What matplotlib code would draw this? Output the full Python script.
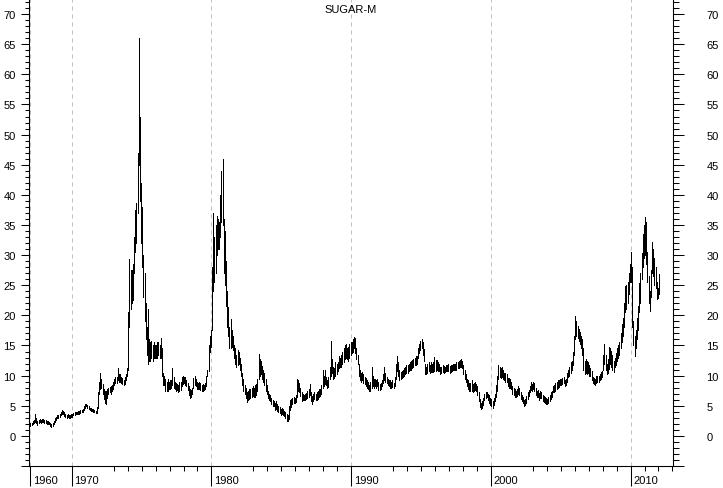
import numpy as np
import matplotlib
matplotlib.use("Agg")
import matplotlib.pyplot as plt

plt.rcParams['font.family'] = ['Liberation Sans', 'DejaVu Sans']

# precio mensual del azucar (rango bajo / alto), desde enero de 1967
start_year = 1967
lows = [
    1.7, 1.8, 1.9, 2.1, 2.3, 2.2, 1.8, 2.1, 2.3, 2.2, 2.3, 2.3,            # 1967
    2.2, 2.1, 2.0, 2.0, 1.9, 1.7, 1.5, 1.6, 1.9, 2.3, 2.6, 2.9,            # 1968
    3.0, 3.2, 3.5, 3.7, 3.6, 3.3, 3.2, 3.0, 3.1, 3.0, 2.9, 3.1,            # 1969
    3.2, 3.4, 3.5, 3.6, 3.6, 3.7, 3.7, 3.8, 3.9, 4.0, 4.3, 4.6,            # 1970
    4.9, 4.6, 4.4, 4.3, 4.2, 4.1, 4.0, 3.9, 3.8, 3.8, 4.6, 7.0,            # 1971
    7.8, 8.0, 7.0, 6.2, 5.5, 5.3, 6.3, 7.0, 7.3, 7.0, 7.4, 7.8,            # 1972
    8.5, 8.8, 8.7, 9.2, 9.0, 9.0, 8.8, 8.6, 8.4, 8.6, 9.2, 10.0,           # 1973
    11.0, 18.0, 21.0, 22.0, 22.5, 27.0, 30.5, 32.0, 37.0, 45.0, 39.0, 32.0,  # 1974
    28.0, 23.0, 19.0, 16.0, 13.5, 12.0, 12.5, 12.5, 13.0, 12.5, 13.0, 13.0,  # 1975
    13.0, 13.0, 13.5, 13.0, 13.0, 10.0, 8.5, 8.5, 7.5, 7.5, 7.5, 7.8,      # 1976
    7.8, 8.0, 8.5, 8.0, 7.8, 7.5, 7.6, 7.3, 7.5, 7.6, 8.2, 8.6,            # 1977
    8.8, 8.5, 8.2, 7.6, 6.8, 6.3, 6.5, 7.0, 8.0, 8.5, 8.3, 7.8,            # 1978
    7.8, 7.8, 7.6, 7.5, 7.4, 7.6, 7.8, 8.3, 10.0, 10.8, 14.0, 14.8,        # 1979
    17.5, 24.0, 25.5, 27.0, 30.0, 31.0, 31.0, 33.0, 35.5, 35.0, 27.0, 25.0,  # 1980
    21.5, 18.0, 16.5, 14.5, 14.5, 14.8, 14.2, 13.0, 12.0, 11.5, 11.8, 12.0,  # 1981
    11.0, 10.0, 8.5, 7.5, 7.0, 6.3, 5.6, 6.0, 6.2, 6.3, 6.5, 6.6,          # 1982
    6.5, 6.5, 6.7, 7.5, 9.5, 10.0, 10.2, 9.5, 9.0, 8.5, 7.5, 7.0,          # 1983
    6.3, 6.0, 5.8, 5.3, 5.0, 5.0, 4.3, 4.5, 4.2, 4.0, 3.8, 3.5,            # 1984
    3.6, 3.5, 3.3, 2.9, 2.5, 2.4, 2.8, 4.3, 4.8, 5.3, 5.5, 5.4,            # 1985
    5.6, 6.5, 7.5, 7.3, 6.6, 5.8, 5.9, 6.0, 6.0, 6.1, 6.3, 6.5,            # 1986
    6.7, 5.8, 5.3, 5.8, 6.2, 6.0, 6.0, 6.2, 6.5, 6.6, 7.0, 8.0,            # 1987
    8.3, 8.6, 8.5, 8.0, 8.1, 9.5, 10.0, 10.5, 9.5, 9.6, 10.0, 10.2,        # 1988
    10.8, 11.2, 11.5, 11.5, 12.0, 12.2, 12.8, 13.0, 12.8, 12.5, 13.0, 13.5,  # 1989
    13.8, 14.0, 14.5, 13.8, 12.8, 12.0, 10.0, 9.2, 9.0, 9.2, 8.7, 8.6,     # 1990
    8.2, 8.0, 7.8, 7.4, 7.5, 8.0, 8.3, 8.0, 8.2, 8.0, 8.3, 7.6,            # 1991
    7.6, 7.8, 8.2, 8.8, 9.3, 9.0, 8.8, 8.5, 8.3, 8.0, 8.0, 8.1,            # 1992
    7.9, 8.3, 9.5, 10.8, 10.0, 9.2, 9.4, 9.6, 9.8, 10.0, 10.2, 10.5,       # 1993
    10.5, 10.8, 11.0, 11.0, 11.3, 11.5, 11.8, 11.8, 12.0, 13.0, 13.8, 14.2,  # 1994
    14.5, 13.5, 12.5, 10.3, 10.2, 10.5, 10.8, 10.5, 10.6, 10.6, 10.6, 10.8,  # 1995
    10.8, 11.0, 10.8, 10.7, 10.3, 10.4, 10.6, 10.5, 10.6, 10.7, 10.8, 10.8,  # 1996
    10.5, 10.6, 10.8, 10.9, 11.0, 10.9, 11.0, 11.2, 11.3, 11.4, 11.5, 11.2,  # 1997
    10.3, 9.5, 9.0, 8.3, 7.8, 7.5, 7.5, 7.4, 7.3, 7.4, 7.6, 7.5,           # 1998
    6.8, 5.8, 4.8, 4.5, 4.7, 5.1, 6.0, 6.3, 6.4, 6.0, 5.5, 5.2,            # 1999
    5.0, 4.7, 5.2, 5.8, 6.5, 7.5, 9.5, 9.8, 9.6, 9.7, 9.5, 9.2,            # 2000
    9.0, 9.0, 8.3, 8.0, 8.0, 7.7, 7.0, 6.7, 6.5, 6.4, 6.6, 7.0,            # 2001
    6.8, 6.2, 5.8, 5.5, 5.0, 5.1, 5.5, 6.2, 6.6, 7.2, 7.6, 7.4,            # 2002
    7.8, 7.5, 6.8, 6.5, 6.5, 6.0, 6.3, 6.3, 5.8, 5.6, 5.5, 5.3,            # 2003
    5.3, 5.4, 5.8, 6.2, 6.5, 7.2, 7.3, 7.5, 7.8, 8.0, 8.1, 8.4,            # 2004
    8.5, 8.6, 8.7, 8.3, 8.4, 9.0, 9.8, 10.0, 10.5, 11.0, 11.7, 13.5,       # 2005
    16.0, 16.5, 16.3, 15.8, 15.2, 14.5, 13.5, 11.0, 10.2, 10.5, 10.3, 10.5,  # 2006
    10.0, 10.0, 9.3, 8.7, 8.6, 8.5, 8.8, 8.9, 9.0, 9.2, 9.5, 9.7,          # 2007
    11.0, 12.0, 11.0, 10.2, 10.5, 11.1, 12.0, 11.5, 11.0, 10.6, 11.5, 11.8,  # 2008
    12.5, 13.0, 13.5, 14.5, 15.5, 16.5, 18.0, 20.5, 21.0, 22.0, 23.5, 25.5,  # 2009
    25.5, 18.0, 15.0, 13.3, 14.5, 16.0, 17.5, 20.5, 22.0, 26.0, 28.0, 29.5,  # 2010
    30.0, 28.5, 25.5, 22.0, 20.8, 23.0, 27.0, 26.5, 25.0, 24.5, 22.7, 22.8,  # 2011
    23.5,                                                                  # 2012
]
highs = [
    2.1, 2.2, 2.5, 2.6, 3.6, 2.9, 2.4, 2.6, 2.8, 2.7, 2.8, 2.8,            # 1967
    2.7, 2.6, 2.5, 2.4, 2.3, 2.2, 2.0, 2.1, 2.5, 2.9, 3.2, 3.4,            # 1968
    3.5, 3.7, 4.0, 4.3, 4.2, 3.9, 3.6, 3.5, 3.6, 3.4, 3.4, 3.6,            # 1969
    3.6, 3.8, 3.9, 4.0, 4.0, 4.1, 4.2, 4.3, 4.3, 4.5, 4.9, 5.3,            # 1970
    5.3, 5.1, 4.9, 4.7, 4.6, 4.5, 4.4, 4.3, 4.2, 4.8, 7.2, 9.0,            # 1971
    10.4, 9.5, 8.6, 7.8, 7.5, 7.4, 7.8, 8.0, 8.1, 8.2, 8.4, 9.0,           # 1972
    9.5, 9.8, 9.7, 11.3, 10.3, 10.3, 9.7, 9.6, 9.3, 9.8, 10.2, 11.2,       # 1973
    20.5, 29.4, 27.5, 27.5, 28.5, 33.0, 37.5, 38.6, 47.0, 66.0, 53.0, 42.0,  # 1974
    38.0, 30.0, 27.0, 22.0, 18.0, 21.0, 16.0, 15.5, 15.8, 15.0, 15.5, 15.0,  # 1975
    15.0, 15.5, 15.5, 15.0, 16.3, 14.5, 10.5, 10.0, 9.5, 9.0, 9.5, 9.0,    # 1976
    9.2, 9.3, 11.3, 9.8, 9.0, 8.8, 8.6, 8.5, 9.0, 9.0, 9.8, 10.0,          # 1977
    9.8, 9.7, 9.3, 8.8, 8.2, 7.8, 7.6, 8.0, 9.6, 10.0, 9.5, 9.0,           # 1978
    8.8, 9.0, 8.8, 8.5, 8.6, 8.5, 8.8, 10.0, 10.9, 15.0, 16.5, 17.5,       # 1979
    28.0, 37.0, 33.0, 35.0, 36.5, 36.0, 35.5, 40.0, 44.0, 46.0, 36.0, 34.0,  # 1980
    29.0, 24.0, 21.4, 18.0, 19.4, 17.5, 16.5, 15.0, 14.5, 13.5, 14.2, 13.9,  # 1981
    13.0, 12.0, 10.5, 9.5, 8.5, 8.0, 7.2, 7.5, 7.8, 7.8, 8.0, 8.2,         # 1982
    8.0, 8.5, 8.6, 9.5, 13.6, 12.8, 12.5, 11.6, 11.0, 10.5, 9.5, 8.5,      # 1983
    7.5, 7.0, 6.7, 6.3, 6.0, 5.8, 5.5, 5.8, 5.3, 5.0, 4.8, 4.5,            # 1984
    4.6, 4.5, 4.2, 4.0, 3.6, 3.4, 5.0, 6.0, 6.2, 6.3, 6.5, 6.3,            # 1985
    6.8, 9.4, 9.3, 8.8, 8.0, 7.2, 7.0, 6.8, 7.0, 7.1, 7.4, 7.8,            # 1986
    8.6, 7.2, 6.6, 7.0, 7.3, 7.0, 7.3, 7.5, 7.7, 7.8, 8.4, 11.0,           # 1987
    10.0, 11.0, 9.7, 9.3, 9.8, 11.5, 15.8, 12.8, 11.5, 11.3, 12.2, 12.0,   # 1988
    12.2, 13.3, 13.0, 13.5, 14.0, 14.5, 15.0, 15.2, 14.5, 14.8, 15.2, 15.5,  # 1989
    15.5, 16.0, 16.4, 16.2, 14.5, 13.5, 12.0, 11.0, 10.5, 10.6, 10.2, 9.8,  # 1990
    9.6, 9.3, 9.0, 8.5, 9.0, 11.4, 10.0, 9.5, 9.4, 9.2, 9.5, 9.0,          # 1991
    8.6, 8.8, 9.2, 10.2, 11.4, 10.4, 9.8, 9.5, 9.3, 9.2, 9.0, 9.2,         # 1992
    8.8, 9.8, 12.0, 13.3, 12.3, 11.0, 10.6, 10.8, 11.0, 11.2, 11.4, 11.8,  # 1993
    11.8, 12.0, 12.3, 12.4, 12.6, 12.8, 13.0, 13.2, 13.3, 14.5, 15.3, 15.8,  # 1994
    16.1, 15.6, 14.4, 12.0, 11.5, 12.0, 12.3, 11.8, 12.2, 12.0, 12.2, 13.1,  # 1995
    12.6, 12.6, 12.2, 12.0, 11.5, 11.5, 11.8, 11.6, 11.5, 11.7, 11.8, 11.9,  # 1996
    11.6, 11.7, 11.8, 11.9, 12.0, 11.9, 12.2, 12.3, 12.4, 12.6, 12.8, 12.5,  # 1997
    11.8, 11.0, 10.3, 9.5, 9.2, 8.8, 8.8, 9.2, 8.6, 8.8, 9.0, 8.6,         # 1998
    8.2, 7.2, 6.2, 5.5, 5.8, 6.3, 7.0, 7.3, 7.3, 7.0, 6.7, 6.3,            # 1999
    6.2, 5.8, 6.3, 7.0, 8.5, 10.0, 11.7, 11.4, 11.2, 11.4, 10.9, 10.5,     # 2000
    10.5, 10.3, 9.6, 9.6, 9.4, 9.0, 8.2, 8.0, 7.8, 7.5, 7.8, 8.2,          # 2001
    7.9, 7.3, 6.8, 6.5, 6.0, 6.1, 6.6, 7.2, 7.6, 8.3, 9.0, 8.6,            # 2002
    8.9, 8.8, 8.0, 7.5, 7.6, 7.1, 7.5, 7.3, 6.8, 6.6, 6.5, 6.3,            # 2003
    6.2, 6.4, 6.8, 7.3, 7.5, 8.3, 8.5, 8.7, 9.0, 9.3, 9.2, 9.4,            # 2004
    9.5, 9.6, 9.8, 9.3, 9.5, 10.5, 11.0, 11.5, 12.2, 12.5, 14.0, 16.5,     # 2005
    19.9, 19.0, 18.3, 17.8, 17.2, 16.5, 16.0, 14.5, 12.5, 12.8, 12.5, 12.2,  # 2006
    11.8, 11.2, 10.8, 9.8, 9.6, 9.5, 10.0, 9.9, 9.9, 10.3, 10.6, 10.8,     # 2007
    13.5, 15.3, 13.5, 12.0, 12.8, 14.8, 14.5, 14.1, 13.5, 12.5, 13.0, 13.7,  # 2008
    14.5, 15.0, 15.5, 17.0, 18.5, 19.5, 22.0, 24.9, 25.0, 25.5, 27.0, 28.5,  # 2009
    30.5, 28.0, 19.0, 16.5, 17.5, 19.5, 21.5, 25.4, 27.0, 30.4, 33.5, 35.0,  # 2010
    36.3, 35.5, 30.5, 26.5, 24.0, 27.5, 32.1, 31.0, 29.5, 28.0, 25.5, 24.5,  # 2011
    26.9,                                                                  # 2012
]

decades = [1960, 1970, 1980, 1990, 2000, 2010]

dates = start_year + (np.arange(len(lows)) + 0.5) / 12.0
label_pos = [max(d, dates[0]) for d in decades]

fig = plt.figure(figsize=(7.23, 4.89), dpi=100)
ax = fig.add_axes([29 / 723, 22 / 489, 644 / 723, 467 / 489])

# lineas verticales punteadas en cada decada
for p in label_pos:
    ax.axvline(p, color='#c0c0c0', lw=0.72, linestyle=(0, (4, 4)), zorder=1)

# barras mensuales alto / bajo
ax.vlines(dates, lows, highs, color='black', lw=0.5, antialiased=False, zorder=3)

ax.set_xlim(1966.94, 2013.04)
ax.set_ylim(-5, 72.5)

# eje y izquierdo
ax.set_yticks(np.arange(-5, 75, 5))
ax.set_yticklabels(['' if v < 0 else str(v) for v in np.arange(-5, 75, 5)])
ax.set_yticks(np.arange(-5, 73, 1), minor=True)
ax.tick_params(axis='y', which='major', length=6, width=0.75, pad=3.5,
               labelsize=8, direction='out')
ax.tick_params(axis='y', which='minor', length=3, width=0.75, direction='out')

# eje y derecho
ax2 = ax.twinx()
ax2.set_ylim(ax.get_ylim())
ax2.set_yticks(np.arange(-5, 75, 5))
ax2.set_yticklabels(['' if v < 0 else str(v) for v in np.arange(-5, 75, 5)])
ax2.set_yticks(np.arange(-5, 73, 1), minor=True)
ax2.tick_params(axis='y', which='major', length=8, width=0.75, pad=16,
                labelsize=8, direction='out')
ax2.tick_params(axis='y', which='minor', length=4.5, width=0.75, direction='out')

# eje x: marcas anuales, y marcas largas con la etiqueta de cada decada
year_ticks = [y for y in range(1967, 2014)
              if not any(p - 0.2 < y <= p + 2.2 for p in label_pos[:-1])]
ax.set_xticks(label_pos)
ax.set_xticklabels([])
ax.set_xticks(year_ticks, minor=True)
ax.tick_params(axis='x', which='major', length=14.4, width=0.75, direction='out')
ax.tick_params(axis='x', which='minor', length=3.6, width=0.75, direction='out')
for p, d in zip(label_pos, decades):
    ax.annotate(str(d), xy=(p, 0), xycoords=('data', 'axes fraction'),
                xytext=(1.8, -6.5), textcoords='offset points',
                ha='left', va='top', fontsize=8)

for a in (ax, ax2):
    a.spines['top'].set_visible(False)
    for s in ('left', 'right', 'bottom'):
        a.spines[s].set_linewidth(0.75)

ax.text(0.5, 1 - 10 / 467, 'SUGAR-M', transform=ax.transAxes,
        ha='center', va='center', fontsize=8)

fig.savefig('out.png', dpi=100)
